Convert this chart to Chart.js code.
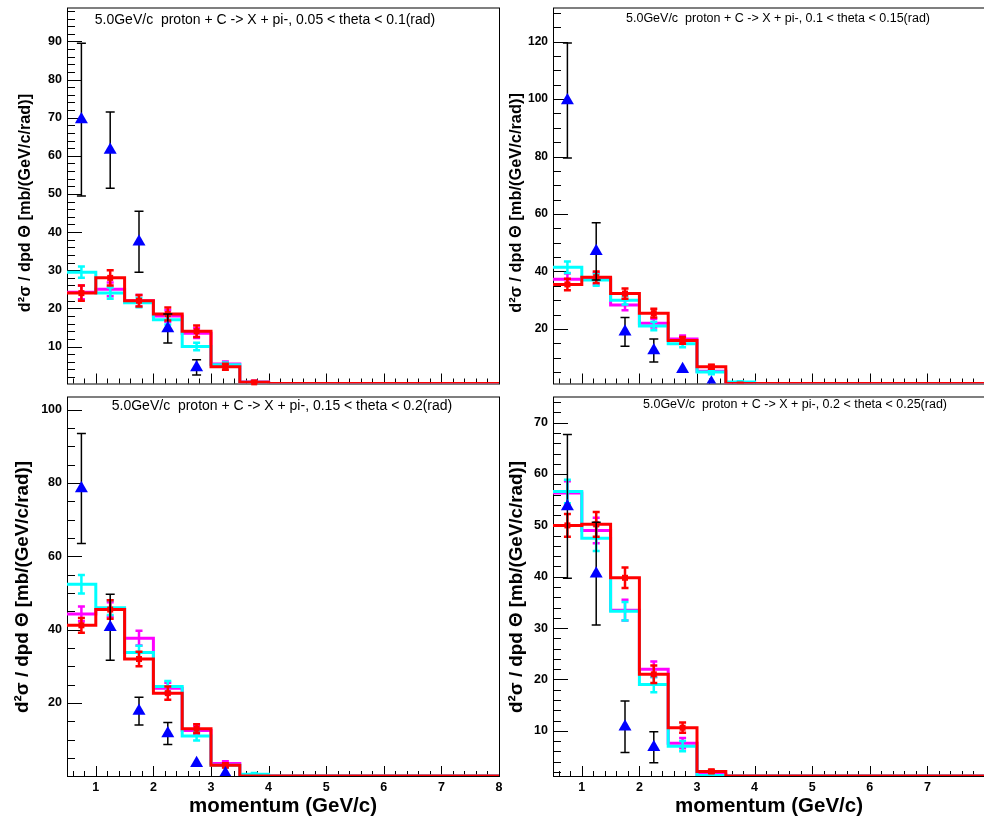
<!DOCTYPE html>
<html>
<head>
<meta charset="utf-8">
<script src="https://cdn.jsdelivr.net/npm/chart.js@4.4.1/dist/chart.umd.min.js"></script>
<style>
  html, body { margin: 0; padding: 0; background: #fff; }
  #page { position: relative; width: 984px; height: 819px; overflow: hidden; background: #fff; }
  #page canvas { position: absolute; }
</style>
</head>
<body>
<div id="page">
  <canvas id="c1" width="510" height="391" style="left:0px;top:0px"></canvas>
  <canvas id="c2" width="496" height="391" style="left:500px;top:0px"></canvas>
  <canvas id="c3" width="510" height="430" style="left:0px;top:389px"></canvas>
  <canvas id="c4" width="496" height="430" style="left:500px;top:389px"></canvas>
</div>
<script>
// histogram binning (momentum, GeV/c)
const binEdges = [0.5, 1, 1.5, 2, 2.5, 3, 3.5, 4, 4.5, 5, 5.5, 6, 6.5, 7, 7.5, 8];
const binCenters = [0.75, 1.25, 1.75, 2.25, 2.75, 3.25, 3.75, 4.25, 4.75, 5.25, 5.75, 6.25, 6.75, 7.25, 7.75];
const xTickLabels = [1, 2, 3, 4, 5, 6, 7, 8];

// 0.05 < theta < 0.1
const p1Magenta = [24.2, 25, 22, 18, 13.5, 5.4, 0.7, 0, 0, 0, 0, 0, 0, 0, 0];
const p1MagentaErr = [1.8, 1.8, 1.5, 1.5, 1.3, 0.7, 0.3];
const p1Cyan = [29.5, 24, 21.5, 17, 10, 5.2, 0.6, 0, 0, 0, 0, 0, 0, 0, 0];
const p1CyanErr = [1.5, 1.5, 1.2, 1.2, 1, 0.6, 0.3];
const p1Red = [24, 28, 22, 18.5, 14, 4.7, 0.6, 0, 0, 0, 0, 0, 0, 0, 0];
const p1RedErr = [2, 2, 1.5, 1.7, 1.5, 0.8, 0.3];
const p1Data = [69.5, 61.5, 37.5, 14.7, 4.5];
const p1DataErr = [20, 10, 8, 3.8, 2];

// 0.1 < theta < 0.15
const p2Magenta = [37.3, 37.5, 28.3, 22, 16.5, 5.3, 1.2, 0, 0, 0, 0, 0, 0, 0, 0];
const p2MagentaErr = [2, 2, 1.8, 1.5, 1.2, 0.7, 0.3];
const p2Cyan = [41.5, 37, 30, 21, 14.8, 5, 1.5, 0, 0, 0, 0, 0, 0, 0, 0];
const p2CyanErr = [2, 2, 1.5, 1.5, 1.2, 0.8, 0.3];
const p2Red = [35.5, 38, 32.3, 25.5, 16, 6.8, 1, 0, 0, 0, 0, 0, 0, 0, 0];
const p2RedErr = [2, 2, 1.8, 1.5, 1.2, 0.7, 0.3];
const p2Data = [99.5, 47, 19, 12.5, 6, 1.3];
const p2DataErr = [20, 10, 5, 4, 0, 0];

// 0.15 < theta < 0.2
const p3Magenta = [44.3, 45.5, 37.7, 24, 12.5, 3.5, 0, 0, 0, 0, 0, 0, 0, 0, 0];
const p3MagentaErr = [2, 2, 2, 1.5, 1.2, 0.6];
const p3Cyan = [52.4, 46, 33.8, 24.5, 11, 3, 0.6, 0, 0, 0, 0, 0, 0, 0, 0];
const p3CyanErr = [2.5, 2, 1.8, 1.5, 1.2, 0.5, 0.3];
const p3Red = [41.2, 45.5, 32, 22.7, 13, 3, 0, 0, 0, 0, 0, 0, 0, 0, 0];
const p3RedErr = [2, 2.5, 2, 1.8, 1.2, 0.6];
const p3Data = [78.5, 40.7, 17.8, 11.7, 3.6, 0.8];
const p3DataErr = [15, 9, 3.8, 3, 0, 0];

// 0.2 < theta < 0.25
const p4Magenta = [56.3, 49, 33.5, 22, 7.6, 1.5, 0, 0, 0, 0, 0, 0, 0, 0, 0];
const p4MagentaErr = [2.3, 2.5, 2, 1.5, 1, 0.3];
const p4Cyan = [56.6, 47.5, 33.3, 19, 7, 1.3, 0, 0, 0, 0, 0, 0, 0, 0, 0];
const p4CyanErr = [2.3, 2.5, 1.8, 1.5, 1, 0.3];
const p4Red = [50, 50.2, 39.8, 21, 10.6, 2.1, 0, 0, 0, 0, 0, 0, 0, 0, 0];
const p4RedErr = [2.2, 2.4, 2, 1.7, 1, 0.3];
const p4Data = [53.7, 40.6, 10.8, 6.8];
const p4DataErr = [14, 10, 5, 3];

const FONT = 'Liberation Sans, Arial, Helvetica, sans-serif';
const YTITLE = 'd\u00b2\u03c3 / dpd \u0398 [mb/(GeV/c/rad)]';
const XTITLE = 'momentum (GeV/c)';

Chart.defaults.font.family = FONT;
Chart.defaults.color = '#000';

const isMult = (v, step) => Math.abs(v / step - Math.round(v / step)) < 1e-6;

// step outline of a histogram, values under the axis minimum sit on the frame
function histPoints(vals, yMin) {
  const pts = [];
  vals.forEach((v, i) => {
    const vv = Math.max(v, yMin);
    pts.push({ x: binEdges[i], y: vv }, { x: binEdges[i + 1], y: vv });
  });
  return pts;
}

function bars(vals, errs) {
  return vals.map((v, i) => ({ x: binCenters[i], y: v, e: errs[i] || 0 }));
}

const rootPad = {
  id: 'rootPad',
  beforeDatasetsDraw(chart, args, o) {
    const { ctx, chartArea: a, scales: { x, y } } = chart;
    ctx.save();
    ctx.strokeStyle = '#000';
    ctx.lineWidth = 1;
    ctx.strokeRect(a.left + 0.5, a.top + 0.5, a.right - a.left, a.bottom - a.top);
    ctx.beginPath();
    y.ticks.forEach(t => {
      const v = t.value;
      if (v <= y.min + 1e-6 || v >= y.max - 1e-6 || !isMult(v, o.yMinor)) return;
      const len = isMult(v, o.yMajor) ? 15 : 8;
      const py = Math.round(y.getPixelForValue(v)) + 0.5;
      ctx.moveTo(a.left, py);
      ctx.lineTo(a.left + len, py);
    });
    x.ticks.forEach(t => {
      const v = t.value;
      if (v <= x.min + 1e-6 || v >= x.max - 1e-6 || !isMult(v, 0.2)) return;
      const len = isMult(v, 1) ? 10 : 5;
      const px = Math.round(x.getPixelForValue(v)) + 0.5;
      ctx.moveTo(px, a.bottom);
      ctx.lineTo(px, a.bottom - len);
    });
    ctx.stroke();
    ctx.restore();
  },
  beforeDatasetDraw(chart, args) {
    const ds = chart.data.datasets[args.index];
    if (!ds.errorBars) return;
    const { ctx, chartArea: a, scales: { x, y } } = chart;
    ctx.save();
    ctx.beginPath();
    ctx.rect(a.left, a.top, a.right - a.left, a.bottom - a.top);
    ctx.clip();
    ctx.strokeStyle = ds.errColor;
    ctx.lineWidth = ds.errWidth;
    ctx.beginPath();
    ds.errorBars.forEach(b => {
      if (!b.e) return;
      const px = x.getPixelForValue(b.x);
      const y1 = y.getPixelForValue(b.y - b.e);
      const y2 = y.getPixelForValue(b.y + b.e);
      ctx.moveTo(px, y1); ctx.lineTo(px, y2);
      ctx.moveTo(px - ds.capHalf, y1); ctx.lineTo(px + ds.capHalf, y1);
      ctx.moveTo(px - ds.capHalf, y2); ctx.lineTo(px + ds.capHalf, y2);
    });
    ctx.stroke();
    ctx.restore();
  },
  afterDatasetDraw(chart, args) {
    const ds = chart.data.datasets[args.index];
    if (!ds.centerMarks) return;
    const { ctx, scales: { x, y } } = chart;
    ctx.save();
    ctx.fillStyle = ds.borderColor;
    ds.errorBars.forEach(b => {
      if (b.y <= y.min) return;
      const px = x.getPixelForValue(b.x), py = y.getPixelForValue(b.y);
      ctx.fillRect(px - 3, py - 3, 6, 6);
    });
    ctx.restore();
  },
  afterDraw(chart, args, o) {
    const { ctx } = chart;
    ctx.save();
    ctx.fillStyle = '#000';
    ctx.textAlign = 'center';
    ctx.textBaseline = 'middle';
    ctx.font = o.titleSize + 'px ' + FONT;
    ctx.fillText(o.title, o.titleX, o.titleY);
    // y axis title, rotated like ROOT's
    ctx.translate(o.yTitleX, o.yTitleY);
    ctx.rotate(-Math.PI / 2);
    ctx.font = 'bold ' + o.yTitleSize + 'px ' + FONT;
    ctx.fillText(YTITLE, 0, 0);
    ctx.restore();
  }
};

function makePanel(id, p) {
  const histSet = (label, vals, errs, color, marks) => ({
    label,
    data: histPoints(vals, p.yMin),
    borderColor: color,
    backgroundColor: color,
    borderWidth: 3,
    pointRadius: 0,
    tension: 0,
    errorBars: bars(vals, errs),
    errColor: color,
    errWidth: 2.5,
    capHalf: 3.5,
    centerMarks: marks
  });
  const dataSet = {
    label: 'data',
    data: p.data.map((v, i) => ({ x: binCenters[i], y: v })),
    showLine: false,
    pointStyle: 'triangle',
    pointRadius: 7.5,
    pointBackgroundColor: '#0000ff',
    pointBorderColor: '#0000ff',
    pointBorderWidth: 0,
    errorBars: bars(p.data, p.dataErr),
    errColor: '#000',
    errWidth: 1.5,
    capHalf: 4.5
  };
  new Chart(document.getElementById(id), {
    type: 'line',
    data: {
      datasets: [
        dataSet,
        histSet('red', p.red, p.redErr, '#ff0000', true),
        histSet('cyan', p.cyan, p.cyanErr, '#00ffff', false),
        histSet('magenta', p.magenta, p.magentaErr, '#ff00ff', false)
      ]
    },
    options: {
      responsive: false,
      animation: false,
      events: [],
      layout: { padding: { left: 0, right: 11, top: p.padTop, bottom: 0 } },
      plugins: {
        legend: { display: false },
        tooltip: { enabled: false },
        rootPad: {
          yMajor: p.yMajor, yMinor: p.yMinor,
          title: p.title, titleX: p.titleX, titleY: p.titleY, titleSize: p.titleSize,
          yTitleX: p.yTitleX, yTitleY: p.yTitleY, yTitleSize: p.yTitleSize
        }
      },
      scales: {
        x: {
          type: 'linear',
          min: 0.5,
          max: 8,
          grid: { display: false, drawTicks: false },
          border: { display: false },
          ticks: {
            display: p.xLabels,
            stepSize: 0.2,
            includeBounds: false,
            autoSkip: false,
            maxRotation: 0,
            padding: 4,
            font: { size: 12.5, weight: 'bold' },
            callback: v => {
              const r = Math.round(v * 1e6) / 1e6;
              return xTickLabels.includes(r) && r <= p.xLastLabel ? r : '';
            }
          },
          title: {
            display: p.xLabels,
            text: XTITLE,
            font: { size: 20.5, weight: 'bold' },
            padding: { top: 0, bottom: 0 }
          },
          afterFit: s => {
            s.height = p.xHeight;
            s.paddingLeft = 0; s.paddingRight = 0; s.paddingTop = 0; s.paddingBottom = 0;
          }
        },
        y: {
          type: 'linear',
          min: p.yMin,
          max: p.yMax,
          grid: { display: false, drawTicks: false },
          border: { display: false },
          ticks: {
            stepSize: p.yMinor,
            includeBounds: false,
            autoSkip: false,
            padding: 5,
            font: { size: p.yTickSize, weight: 'bold' },
            callback: v => isMult(v, p.yMajor) ? Math.round(v) : ''
          },
          afterFit: s => {
            s.width = p.yWidth;
            s.paddingLeft = 0; s.paddingRight = 0; s.paddingTop = 0; s.paddingBottom = 0;
          }
        }
      }
    },
    plugins: [rootPad]
  });
}

makePanel('c1', {
  data: p1Data, dataErr: p1DataErr,
  red: p1Red, redErr: p1RedErr, cyan: p1Cyan, cyanErr: p1CyanErr, magenta: p1Magenta, magentaErr: p1MagentaErr,
  yMin: 0.3, yMax: 98.9, yMajor: 10, yMinor: 2,
  padTop: 7, xHeight: 1, xLabels: false, xLastLabel: 8, yWidth: 67,
  yTickSize: 12.5, yTitleSize: 16.3, yTitleX: 26, yTitleY: 203,
  title: '5.0GeV/c  proton + C -> X + pi-, 0.05 < theta < 0.1(rad)', titleX: 265, titleY: 20, titleSize: 14
});
makePanel('c2', {
  data: p2Data, dataErr: p2DataErr,
  red: p2Red, redErr: p2RedErr, cyan: p2Cyan, cyanErr: p2CyanErr, magenta: p2Magenta, magentaErr: p2MagentaErr,
  yMin: 1.0, yMax: 131.9, yMajor: 20, yMinor: 5,
  padTop: 7, xHeight: 1, xLabels: false, xLastLabel: 7, yWidth: 53,
  yTickSize: 12, yTitleSize: 16.4, yTitleX: 16, yTitleY: 203,
  title: '5.0GeV/c  proton + C -> X + pi-, 0.1 < theta < 0.15(rad)', titleX: 278, titleY: 19, titleSize: 12.5
});
makePanel('c3', {
  data: p3Data, dataErr: p3DataErr,
  red: p3Red, redErr: p3RedErr, cyan: p3Cyan, cyanErr: p3CyanErr, magenta: p3Magenta, magentaErr: p3MagentaErr,
  yMin: 0.1, yMax: 103.6, yMajor: 20, yMinor: 5,
  padTop: 1, xHeight: 43, xLabels: true, xLastLabel: 8, yWidth: 67,
  yTickSize: 12.5, yTitleSize: 18.8, yTitleX: 23, yTitleY: 198,
  title: '5.0GeV/c  proton + C -> X + pi-, 0.15 < theta < 0.2(rad)', titleX: 282, titleY: 16.7, titleSize: 14
});
makePanel('c4', {
  data: p4Data, dataErr: p4DataErr,
  red: p4Red, redErr: p4RedErr, cyan: p4Cyan, cyanErr: p4CyanErr, magenta: p4Magenta, magentaErr: p4MagentaErr,
  yMin: 1.2, yMax: 75.1, yMajor: 10, yMinor: 2,
  padTop: 1, xHeight: 43, xLabels: true, xLastLabel: 7, yWidth: 53,
  yTickSize: 12.5, yTitleSize: 18.8, yTitleX: 17, yTitleY: 198,
  title: '5.0GeV/c  proton + C -> X + pi-, 0.2 < theta < 0.25(rad)', titleX: 295, titleY: 16, titleSize: 12.5
});
</script>
</body>
</html>
